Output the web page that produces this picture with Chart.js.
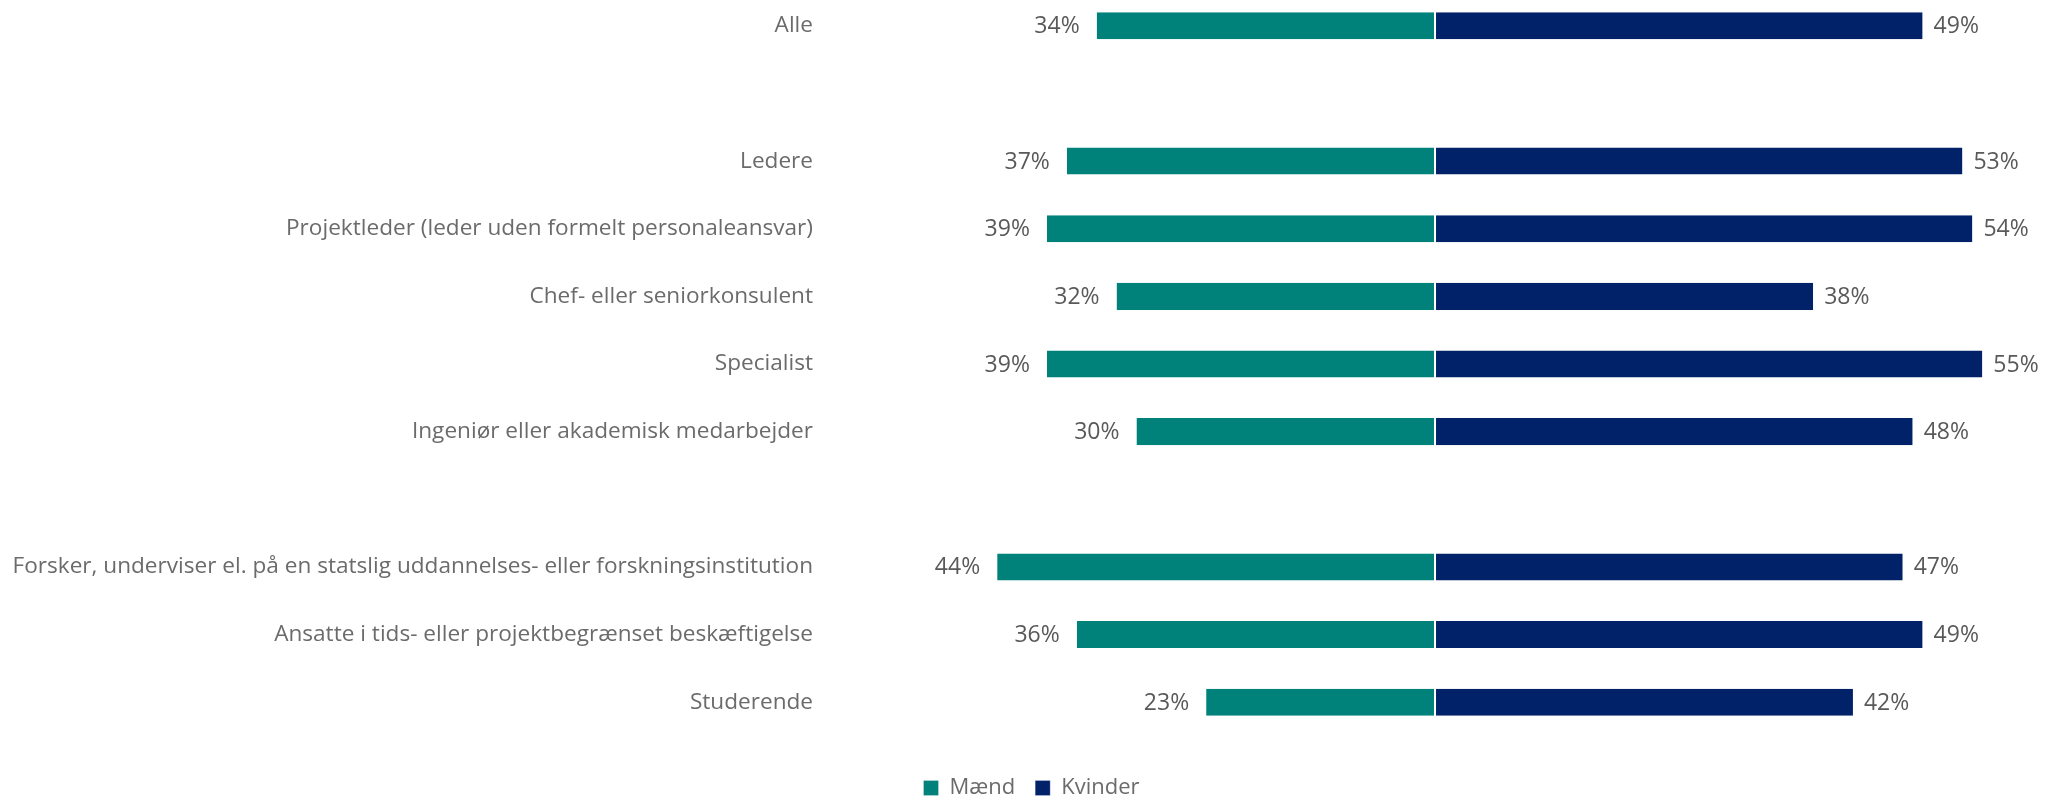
<!DOCTYPE html>
<html lang="da">
<head>
  <meta charset="UTF-8">
  <title>Mænd og kvinder</title>
  <style>
body {
  margin: 0;
  background: #fff;
  overflow: hidden;
}

/* canvas sits a little above the page top so the first row lines up */
.chart-box {
  position: absolute;
  left: 0;
  top: -8px;
  width: 2049px;
  height: 817px;
}
  </style>
</head>
<body>

  <div class="chart-box">
    <canvas id="genderChart"></canvas>
  </div>

  <script src="https://cdn.jsdelivr.net/npm/chart.js"></script>

  <script>
    // Groups (empty strings are spacer rows)
    const categories = [
      'Alle',
      '',
      'Ledere',
      'Projektleder (leder uden formelt personaleansvar)',
      'Chef- eller seniorkonsulent',
      'Specialist',
      'Ingeniør eller akademisk medarbejder',
      '',
      'Forsker, underviser el. på en statslig uddannelses- eller forskningsinstitution',
      'Ansatte i tids- eller projektbegrænset beskæftigelse',
      'Studerende'
    ];

    // Percentages
    const maend   = [34, null, 37, 39, 32, 39, 30, null, 44, 36, 23];
    const kvinder = [49, null, 53, 54, 38, 55, 48, null, 47, 49, 42];

    const FONT = '"Open Sans", "Noto Sans", sans-serif';
    const TEAL = '#00817a';
    const NAVY = '#012169';

    Chart.defaults.font.family = FONT;
    Chart.defaults.color = '#6b6b6b';

    // Percent labels next to the bar ends
    const valueLabels = {
      id: 'valueLabels',
      afterDatasetsDraw(chart) {
        const ctx = chart.ctx;
        ctx.save();
        ctx.font = '23px ' + FONT;
        ctx.fillStyle = '#595959';
        ctx.textBaseline = 'middle';
        chart.data.datasets.forEach((ds, i) => {
          chart.getDatasetMeta(i).data.forEach((bar, j) => {
            const v = ds.data[j];
            if (v === null) return;
            const text = Math.abs(v) + '%';
            if (v < 0) {
              ctx.textAlign = 'right';
              ctx.fillText(text, bar.x - 17, bar.y + 1);
            } else {
              ctx.textAlign = 'left';
              ctx.fillText(text, bar.x + 11, bar.y + 1);
            }
          });
        });
        ctx.restore();
      }
    };

    const ctx = document.getElementById('genderChart').getContext('2d');

    const chart = new Chart(ctx, {
      type: 'bar',
      data: {
        labels: categories,
        datasets: [
          {
            label: 'Mænd',
            data: maend.map(v => v === null ? null : -v),
            backgroundColor: TEAL,
            borderColor: '#ffffff',
            borderWidth: { top: 0, bottom: 0, left: 0, right: 1 },
            borderSkipped: false,
          },
          {
            label: 'Kvinder',
            data: kvinder,
            backgroundColor: NAVY,
            borderColor: '#ffffff',
            borderWidth: { top: 0, bottom: 0, left: 1, right: 0 },
            borderSkipped: false,
          }
        ]
      },
      options: {
        indexAxis: 'y',
        responsive: true,
        maintainAspectRatio: false,
        animation: false,
        layout: { padding: { left: 14, right: 0, top: 0, bottom: 0 } },
        datasets: {
          bar: { barPercentage: 0.4, categoryPercentage: 1 }
        },
        scales: {
          x: {
            stacked: true,
            min: -61,
            max: 61.7,
            grid: { display: false },
            border: { display: false },
            ticks: { display: false },
            afterFit: s => { s.height = 21; }
          },
          y: {
            stacked: true,
            grid: { display: false, drawTicks: false },
            border: { display: false },
            ticks: {
              padding: 15,
              color: '#6b6b6b',
              font: { size: 22.6 },
              autoSkip: false
            },
            afterFit: s => {
              s.width = 814;
              // rows fill the full height, no label overhang
              s.paddingTop = 0;
              s.paddingBottom = 0;
            }
          }
        },
        plugins: {
          tooltip: { enabled: false },
          legend: {
            position: 'bottom',
            labels: {
              boxWidth: 15,
              boxHeight: 15,
              padding: 20,
              color: '#6b6b6b',
              font: { size: 22 }
            }
          }
        }
      },
      plugins: [valueLabels]
    });
  </script>

</body>
</html>
